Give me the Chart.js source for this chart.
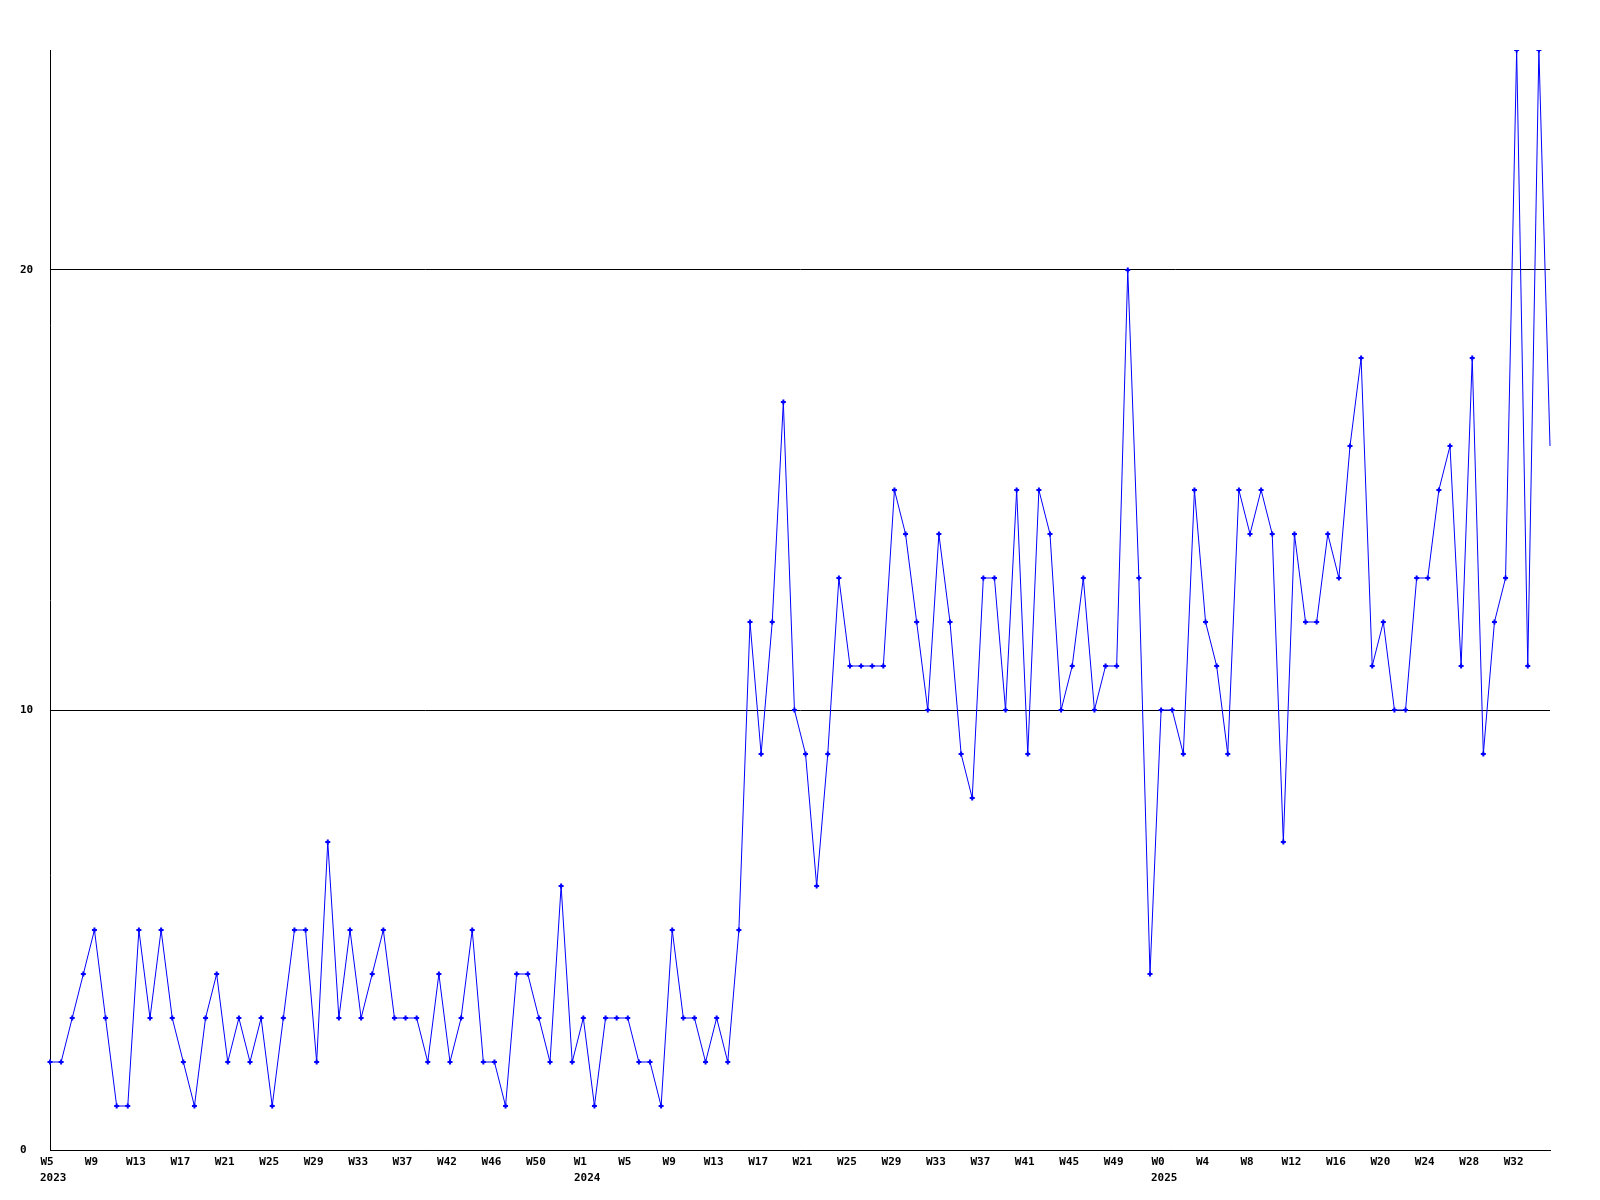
<!DOCTYPE html>
<html>
<head>
<meta charset="utf-8">
<script src="https://cdn.jsdelivr.net/npm/chart.js@4/dist/chart.umd.min.js"></script>
<style>
  html,body{margin:0;padding:0;background:#fff;}
  #wrap{width:1600px;height:1200px;position:relative;}
</style>
</head>
<body>
<div id="wrap"><canvas id="chart"></canvas></div>
<script>
// week categories, one per point
const weeks = [
  // 2023
  'W5','W6','W7','W8','W9','W10','W11','W12','W13','W14','W15','W16','W17','W18','W19','W20',
  'W21','W22','W23','W24','W25','W26','W27','W28','W29','W30','W31','W32','W33','W34','W35','W36',
  'W37','W38','W39','W40','W42','W43','W44','W45','W46','W47','W48','W49','W50','W51','W52',
  // 2024
  'W0','W1','W2','W3','W4','W5','W6','W7','W8','W9','W10','W11','W12','W13','W14','W15','W16',
  'W17','W18','W19','W20','W21','W22','W23','W24','W25','W26','W27','W28','W29','W30','W31','W32',
  'W33','W34','W35','W36','W37','W38','W39','W40','W41','W42','W43','W44','W45','W46','W47','W48',
  'W49','W50','W51','W52',
  // 2025
  'W0','W1','W2','W3','W4','W5','W6','W7','W8','W9','W10','W11','W12','W13','W14','W15','W16',
  'W17','W18','W19','W20','W21','W22','W23','W24','W25','W26','W27','W28','W29','W30','W31','W32',
  'W33','W34','W35'
];
// index of the category that carries the year under it
const yearMarks = [[0,'2023'],[48,'2024'],[100,'2025']];

const counts = [
  2,2,3,4,5,3,1,1,5,3,
  5,3,2,1,3,4,2,3,2,3,
  1,3,5,5,2,7,3,5,3,4,
  5,3,3,3,2,4,2,3,5,2,
  2,1,4,4,3,2,6,2,3,1,
  3,3,3,2,2,1,5,3,3,2,
  3,2,5,12,9,12,17,10,9,6,
  9,13,11,11,11,11,15,14,12,10,
  14,12,9,8,13,13,10,15,9,15,
  14,10,11,13,10,11,11,20,13,4,
  10,10,9,15,12,11,9,15,14,15,
  14,7,14,12,12,14,13,16,18,11,
  12,10,10,13,13,15,16,11,18,9,
  12,13,25,11,25,16
];

const yTicks = [0,10,20];
const LABEL_EVERY = 4;

const FONT = {family:'"DejaVu Sans Mono", "Liberation Mono", monospace', size:11, weight:'bold'};
const FONT_CSS = 'bold 11px "DejaVu Sans Mono", "Liberation Mono", monospace';

// year under the first labelled week of each year, left-aligned with it
const yearPlugin = {
  id:'years',
  afterDraw(chart){
    const xs = chart.scales.x, c = chart.ctx;
    c.save();
    c.font = FONT_CSS;
    c.fillStyle = '#000';
    c.textAlign = 'left';
    c.textBaseline = 'middle';
    yearMarks.forEach(([i,yr])=>{
      const px = xs.getPixelForValue(i);
      const w = c.measureText(weeks[i]).width;
      c.fillText(yr, Math.round(px - w/2) - 3, xs.top + 28);
    });
    c.restore();
  }
};

const last = counts.length-1;

new Chart(document.getElementById('chart'), {
  type:'line',
  data:{
    labels:weeks,
    datasets:[{
      data:counts,
      borderColor:'#0000ff',
      backgroundColor:'#0000ff',
      borderWidth:1,
      tension:0,
      fill:false,
      pointStyle:'cross',
      pointRadius:(ctx)=>ctx.dataIndex===last?0:2.5,
      pointBorderWidth:2,
      pointBorderColor:'#0000ff'
    }]
  },
  options:{
    responsive:true,
    maintainAspectRatio:false,
    animation:false,
    layout:{padding:{left:20,right:50,top:50,bottom:0}},
    plugins:{legend:{display:false},tooltip:{enabled:false}},
    scales:{
      x:{
        type:'category',
        offset:false,
        grid:{display:false,drawTicks:false},
        border:{display:true,color:'#000',width:1},
        ticks:{
          autoSkip:false,
          maxRotation:0,
          minRotation:0,
          padding:6,
          labelOffset:-3,
          color:'#000',
          font:FONT,
          callback:(v,i)=> i%LABEL_EVERY===0 ? weeks[i] : null
        },
        afterFit:(s)=>{ s.height = 50; }
      },
      y:{
        min:0,
        max:25,
        grid:{color:'#000',lineWidth:1,drawTicks:false},
        border:{display:true,color:'#000',width:1},
        ticks:{color:'#000',font:FONT,crossAlign:'far',padding:4},
        afterBuildTicks:(s)=>{ s.ticks = yTicks.map(v=>({value:v})); },
        afterFit:(s)=>{ s.width = 30; }
      }
    }
  },
  plugins:[yearPlugin]
});
</script>
</body>
</html>
